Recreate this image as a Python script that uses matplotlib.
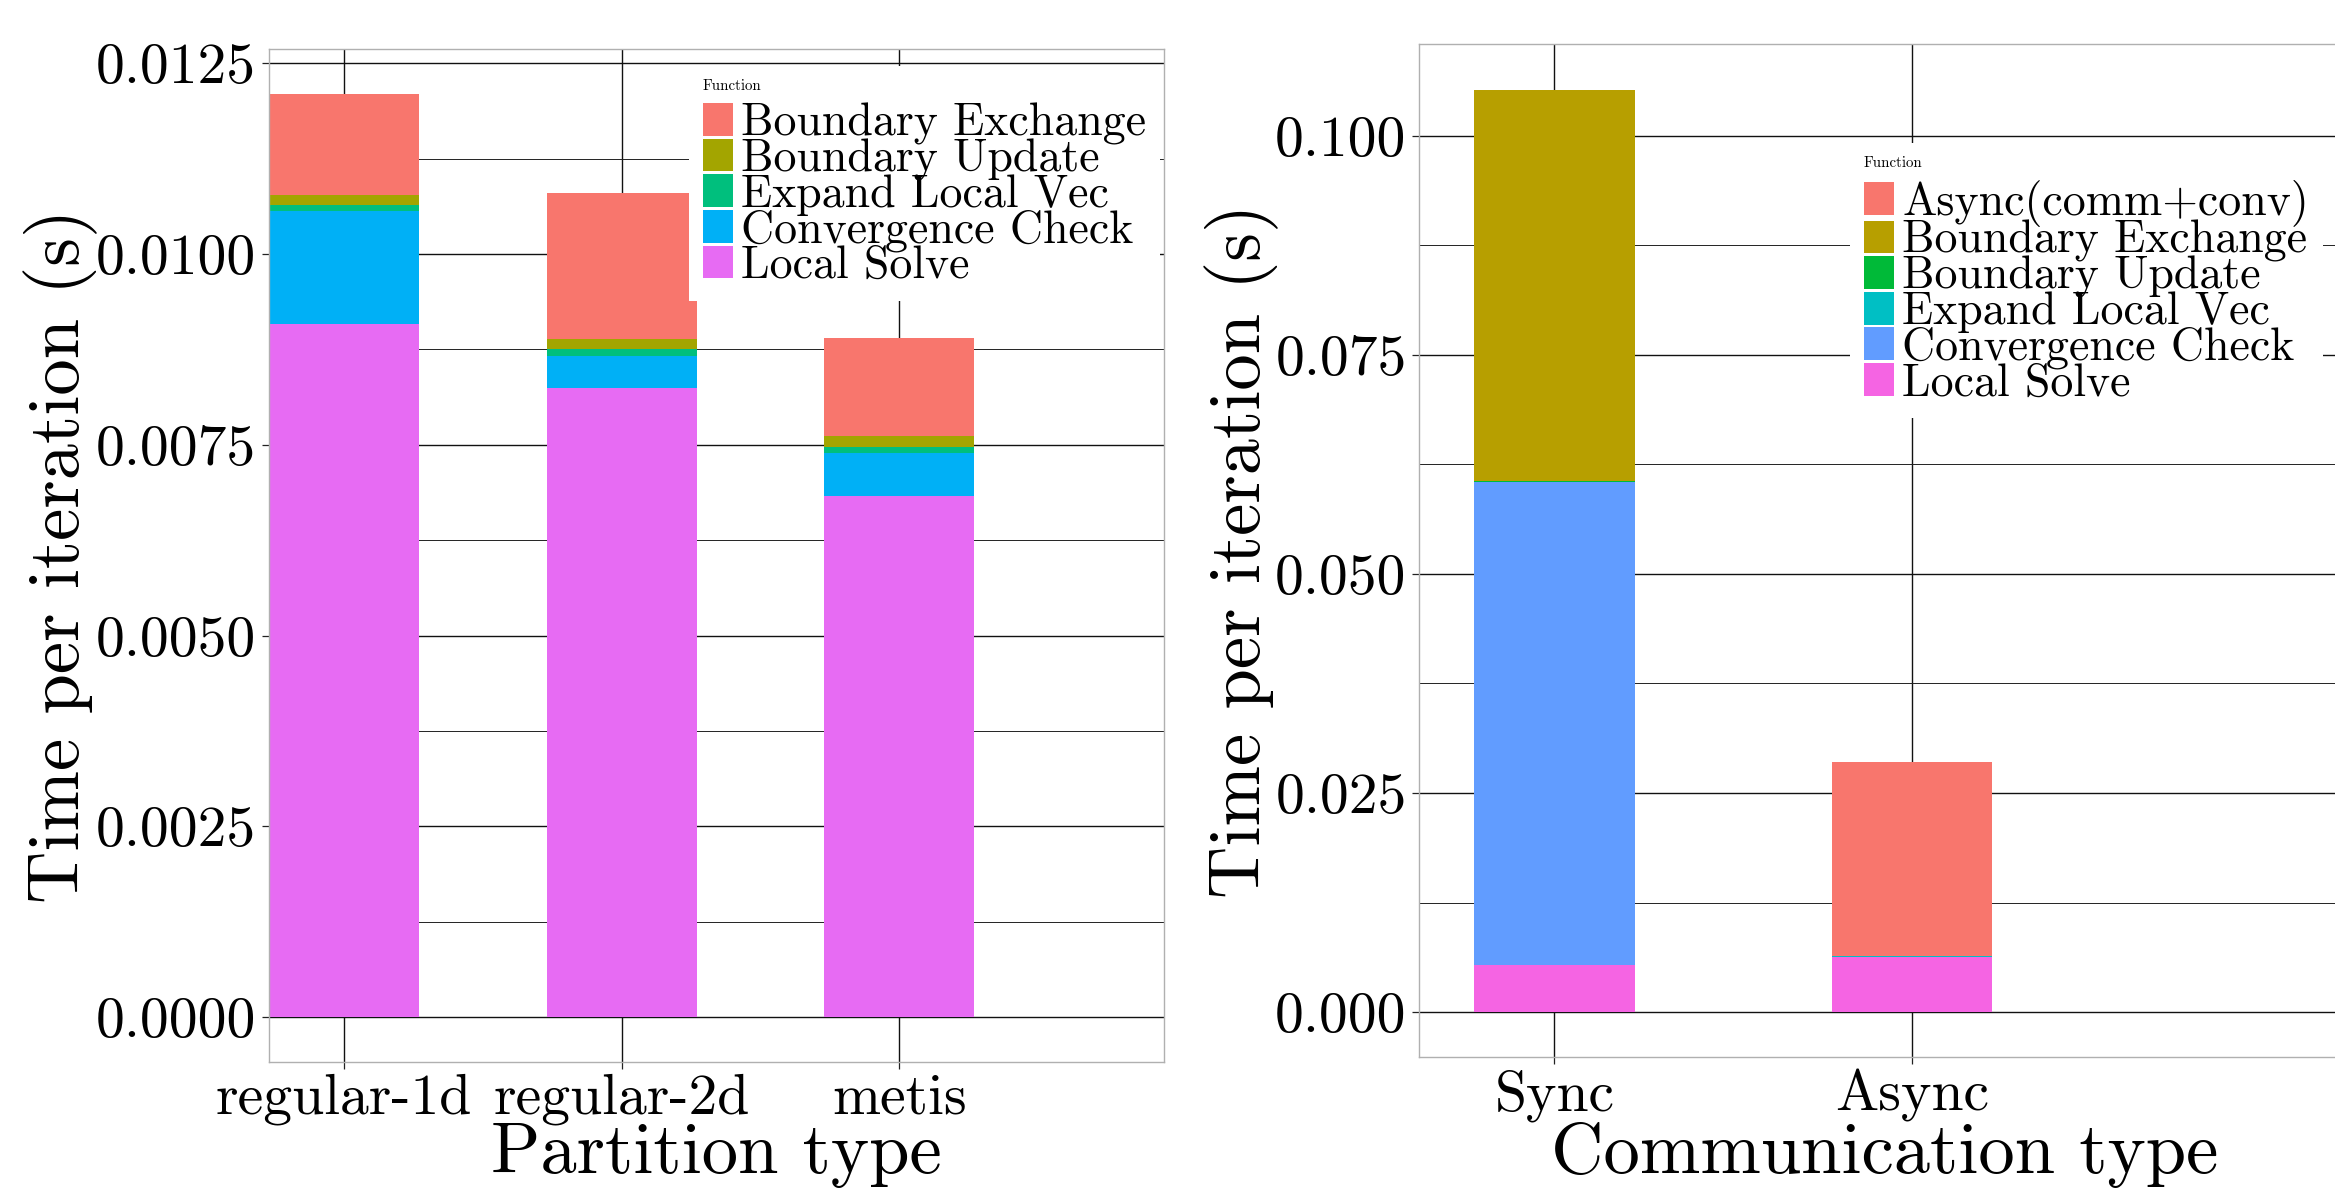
import matplotlib
matplotlib.use("Agg")
import matplotlib.pyplot as plt
import numpy as np
from matplotlib.patches import Patch
from matplotlib.ticker import MultipleLocator, FormatStrFormatter

plt.rcParams["font.family"] = "cmr10"
plt.rcParams["axes.unicode_minus"] = False
plt.rcParams["mathtext.fontset"] = "cm"

# ---- Partition-type breakdown (seconds per iteration) ----
partition_types = ["regular-1d", "regular-2d", "metis"]
part_functions = ["Boundary Exchange", "Boundary Update", "Expand Local Vec",
                  "Convergence Check", "Local Solve"]
part_colors = ["#F8766D", "#A3A500", "#00BF7D", "#00B0F6", "#E76BF3"]
local_solve_p = [0.00908, 0.00825, 0.00683]
conv_check_p = [0.00148, 0.00042, 0.00056]
expand_vec_p = [0.00008, 0.00008, 0.00008]
bnd_update_p = [0.00013, 0.00014, 0.00014]
bnd_exchange_p = [0.00133, 0.00191, 0.00129]
part_ticks = [0.0, 0.0025, 0.0050, 0.0075, 0.0100, 0.0125]

# ---- Communication-type breakdown (seconds per iteration) ----
comm_types = ["Sync", "Async"]
comm_functions = ["Async(comm+conv)", "Boundary Exchange", "Boundary Update",
                  "Expand Local Vec", "Convergence Check", "Local Solve"]
comm_colors = ["#F8766D", "#B79F00", "#00BA38", "#00BFC4", "#619CFF", "#F564E3"]
local_solve_c = [0.00537, 0.00630]
conv_check_c = [0.05511, 0.0]
expand_vec_c = [0.00005, 0.00005]
bnd_update_c = [0.00005, 0.00004]
bnd_exchange_c = [0.04470, 0.0]
async_cc_c = [0.0, 0.02213]
comm_ticks = [0.0, 0.025, 0.050, 0.075, 0.100]

W, H = 2335, 1188
fig = plt.figure(figsize=(W / 100, H / 100), dpi=100)


def px_rect(x0, y0, x1, y1):
    return [x0 / W, 1 - y1 / H, (x1 - x0) / W, (y1 - y0) / H]


TICK_FS = 41.5
LABEL_FS = 52.3
LEG_FS = 33
LEG_TITLE_FS = 10.8


def style_axes(ax, yticks, fmt, minor_step):
    ax.set_axisbelow(True)
    ax.set_yticks(yticks)
    ax.yaxis.set_major_formatter(FormatStrFormatter(fmt))
    ax.yaxis.set_minor_locator(MultipleLocator(minor_step))
    ax.grid(which="major", axis="both", color="#111111", lw=1.0)
    ax.grid(which="minor", axis="y", color="#222222", lw=0.7)
    for sp in ax.spines.values():
        sp.set_color("#b0b0b0")
        sp.set_linewidth(1.0)
    ax.tick_params(which="major", direction="out", length=5, width=0.9,
                   color="#222222", labelsize=TICK_FS)
    ax.tick_params(axis="y", which="major", pad=4)
    ax.tick_params(axis="x", which="major", pad=3.6)
    ax.tick_params(which="minor", length=0)


def stacked(ax, x, layers, colors, width):
    bottom = np.zeros(len(x))
    for vals, col in zip(layers, colors):
        vals = np.asarray(vals)
        ax.bar(x, vals, width=width, bottom=bottom, color=col, linewidth=0,
               zorder=2)
        bottom += vals


def add_legend(ax, labels, colors, corner_px):
    handles = [Patch(facecolor=c, edgecolor="none") for c in colors]
    leg = ax.legend(handles, labels, title="Function", loc="upper left",
                    bbox_to_anchor=(corner_px[0] / W, 1 - corner_px[1] / H),
                    bbox_transform=fig.transFigure, borderaxespad=0,
                    borderpad=0.3, fontsize=LEG_FS,
                    title_fontsize=LEG_TITLE_FS, handlelength=0.655,
                    handleheight=0.72, handletextpad=0.186,
                    labelspacing=-0.142, frameon=True, fancybox=False,
                    framealpha=1, edgecolor="none", facecolor="white",
                    alignment="left")
    # gap between the small title and the first entry
    leg._legend_box.sep = 6.7
    return leg


# ---- left panel ----
ax1 = fig.add_axes(px_rect(268.7, 49.3, 1164, 1061.7))
xp = np.arange(len(partition_types))
stacked(ax1, xp,
        [local_solve_p, conv_check_p, expand_vec_p, bnd_update_p, bnd_exchange_p],
        part_colors[::-1], 0.54)
style_axes(ax1, part_ticks, "%.4f", 0.00125)
ax1.set_xticks(xp)
ax1.set_xticklabels(partition_types)
ax1.set_xlim(-0.271, 2.9525)
ax1.set_ylim(-0.000584, 0.012684)
ax1.set_xlabel("Partition type", fontsize=LABEL_FS)
ax1.set_ylabel("Time per iteration (s)", fontsize=LABEL_FS)
ax1.xaxis.set_label_coords(0.5, -0.0605)
ax1.yaxis.set_label_coords(-0.191, 0.5)
add_legend(ax1, part_functions, part_colors, (689, 66))

# ---- right panel ----
ax2 = fig.add_axes(px_rect(1419, 44, 2350, 1057.3))
xc = np.arange(len(comm_types))
stacked(ax2, xc,
        [local_solve_c, conv_check_c, expand_vec_c, bnd_update_c,
         bnd_exchange_c, async_cc_c],
        comm_colors[::-1], 0.448)
style_axes(ax2, comm_ticks, "%.3f", 0.0125)
ax2.set_xticks(xc)
ax2.set_xticklabels(comm_types)
ax2.set_xlim(-0.3793, 2.227)
ax2.set_ylim(-0.00517, 0.1105)
ax2.set_xlabel("Communication type", fontsize=LABEL_FS)
ax2.set_ylabel("Time per iteration (s)", fontsize=LABEL_FS)
ax2.xaxis.set_label_coords(0.5, -0.0636)
ax2.yaxis.set_label_coords(-0.1504, 0.5)
add_legend(ax2, comm_functions, comm_colors, (1850, 143))

fig.savefig("out.png", dpi=100)
